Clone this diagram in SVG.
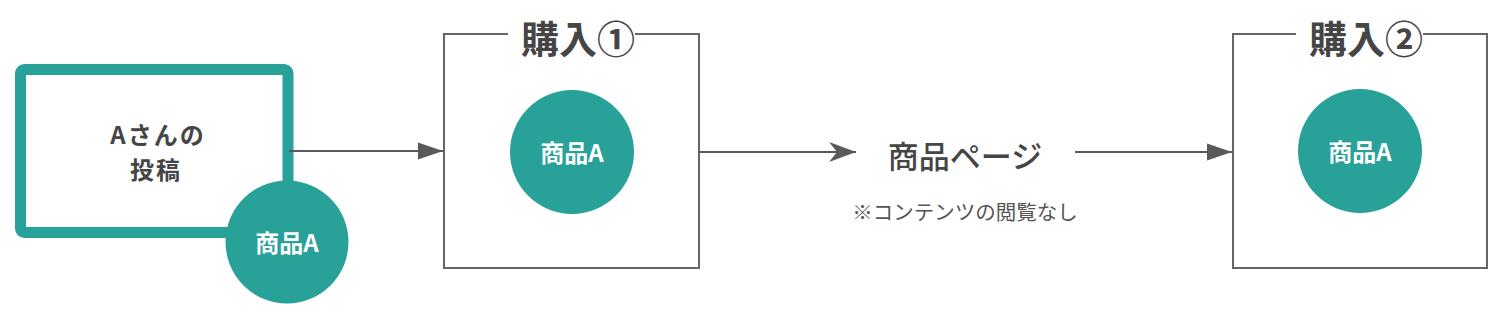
<svg xmlns="http://www.w3.org/2000/svg" width="1506" height="320" viewBox="0 0 1506 320">
<style>
text{font-family:"Noto Sans CJK JP","Noto Sans",sans-serif;}
.lbl{fill:#454545;font-weight:700;text-anchor:middle;}
.wht{fill:#ffffff;font-weight:700;text-anchor:middle;font-size:24px;}
.frame{fill:none;stroke:#666666;stroke-width:2;}
.teal{fill:#28a199;}
.line{stroke:#595959;stroke-width:2;fill:none;}
</style>
<defs>
<marker id="tri" markerUnits="userSpaceOnUse" markerWidth="26" markerHeight="20" refX="25" refY="10" orient="auto">
<path d="M0,1.5 L25,10 L0,18.5 Z" fill="#595959"/>
</marker>
<marker id="barb" markerUnits="userSpaceOnUse" markerWidth="28" markerHeight="22" refX="27" refY="11" orient="auto">
<path d="M0,1 L27,11 L0,21 L8,11 Z" fill="#595959"/>
</marker>
</defs>
<g id="post">
<rect x="20.5" y="69.5" width="267.5" height="163" rx="4" fill="#ffffff" stroke="#28a199" stroke-width="11"/>
<text class="lbl" x="158" y="144" font-size="24" letter-spacing="2">Aさんの</text>
<text class="lbl" x="156" y="179" font-size="24" letter-spacing="2">投稿</text>
</g>
<g id="post-item">
<circle class="teal" cx="287" cy="242" r="61.5"/>
<text class="wht" x="287" y="252">商品A</text>
</g>
<g id="purchase1">
<path class="frame" d="M508,34 H444 V268 H699 V34 H635"/>
<text class="lbl" x="578" y="53" font-size="38">購入①</text>
<circle class="teal" cx="572" cy="152" r="62"/>
<text class="wht" x="572" y="162">商品A</text>
</g>
<g id="product-page">
<text class="lbl" x="965" y="168" font-size="31" style="font-weight:500">商品ページ</text>
<text x="965" y="220" font-size="20.5" fill="#555555" text-anchor="middle">※コンテンツの閲覧なし</text>
</g>
<g id="purchase2">
<path class="frame" d="M1296,34 H1233 V268 H1487 V34 H1423"/>
<text class="lbl" x="1366" y="53" font-size="38">購入②</text>
<circle class="teal" cx="1360" cy="151" r="62"/>
<text class="wht" x="1360" y="161">商品A</text>
</g>
<g id="connectors">
<line class="line" x1="289" y1="151" x2="443" y2="151" marker-end="url(#tri)"/>
<line class="line" x1="700" y1="152" x2="856" y2="152" marker-end="url(#barb)"/>
<line class="line" x1="1075" y1="152" x2="1232" y2="152" marker-end="url(#tri)"/>
</g>
</svg>
